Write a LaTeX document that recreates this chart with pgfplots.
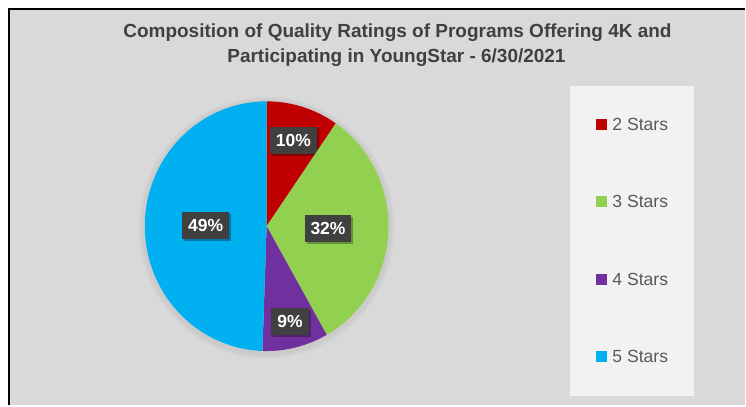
\documentclass[border=0pt]{standalone}
\usepackage{pgfplots}
\pgfplotsset{compat=1.18}
\usepackage{pgfplotstable}
\usepackage{fontspec}
\setmainfont{Liberation Sans}
\usetikzlibrary{shadows}
\definecolor{cA}{HTML}{C00000}
\definecolor{cB}{HTML}{92D050}
\definecolor{cC}{HTML}{7030A0}
\definecolor{cD}{HTML}{00B0F0}
\definecolor{bg}{HTML}{D9D9D9}
\definecolor{lg}{HTML}{F2F2F2}
\definecolor{tc}{HTML}{404040}
\definecolor{lt}{HTML}{595959}
\tikzset{lbl/.style={fill=tc,text=white,font=\bfseries\fontsize{17.5}{20}\selectfont,
    inner xsep=6pt,inner ysep=0pt,minimum height=27pt,
    drop shadow={shadow xshift=2pt,shadow yshift=-2pt,opacity=0.3,fill=black}}}
\pgfplotstableread[col sep=comma]{
label,pct,color,lr
2 Stars,9.6,cA,90
3 Stars,32.2,cB,61.5
4 Stars,8.75,cC,98
5 Stars,49.45,cD,61
}\piedata
\begin{document}
\begin{tikzpicture}[x=1pt,y=1pt]
\fill[white] (0,0) rectangle (746,406);
\fill[bg] (9,0) rectangle (746,397);
\draw[black,line width=2pt] (9,0) -- (9,397) -- (746,397);
% soft shadow around pie
\fill[black,opacity=0.03] (267,406-228) ellipse (128 and 131);
\fill[black,opacity=0.03] (267,406-228) ellipse (125.5 and 128.5);
% title
\node[anchor=base,font=\bfseries\fontsize{19}{22}\selectfont,text=tc,inner sep=0] at (398,406-37.5) {Composition of Quality Ratings of Programs Offering 4K and};
\node[anchor=base,font=\bfseries\fontsize{19}{22}\selectfont,text=tc,inner sep=0] at (397,406-62.5) {Participating in YoungStar - 6/30/2021};
% legend
\fill[lg] (571,406-86) rectangle (695,406-397);
\foreach \col/\txt/\yy in {cA/2 Stars/131,cB/3 Stars/208,cC/4 Stars/286,cD/5 Stars/363}{
  \fill[\col] (597,406-\yy+1) rectangle (608,406-\yy+12);
  \node[anchor=base west,inner sep=0,text=lt,font=\fontsize{17.6}{20}\selectfont] at (613,406-\yy) {\txt};
}
\begin{axis}[at={(0,0)},anchor=south west,width=746pt,height=406pt,scale only axis,
  xmin=0,xmax=746,ymin=0,ymax=406,y dir=reverse,axis lines=none,clip=false]
\pgfmathsetmacro\cum{0}
\pgfplotsforeachungrouped \i in {0,1,2,3}{%
  \pgfplotstablegetelem{\i}{pct}\of\piedata \let\slP\pgfplotsretval
  \pgfplotstablegetelem{\i}{color}\of\piedata \let\slC\pgfplotsretval
  \pgfplotstablegetelem{\i}{lr}\of\piedata \let\slR\pgfplotsretval
  \pgfmathsetmacro\slA{90-3.6*\cum}
  \pgfmathsetmacro\slB{90-3.6*(\cum+\slP)}
  \pgfmathsetmacro\slM{90-3.6*(\cum+\slP/2)}
  \pgfmathsetmacro\lx{267+\slR*cos(\slM)}
  \pgfmathsetmacro\ly{226.5-\slR*sin(\slM)}
  \pgfmathtruncatemacro\pint{round(\slP)}
  \edef\temp{\noexpand\addplot[fill=\slC,draw=none,domain=\slB:\slA,samples=90] ({267+122*cos(x)},{226.5-125*sin(x)}) -- (axis cs:267,226.5) -- cycle;}
  \temp
  \edef\temp{\noexpand\node[lbl] at (axis cs:\lx,\ly) {\pint\noexpand\%};}
  \temp
  \pgfmathsetmacro\cum{\cum+\slP}
}
\end{axis}
\end{tikzpicture}
\end{document}
